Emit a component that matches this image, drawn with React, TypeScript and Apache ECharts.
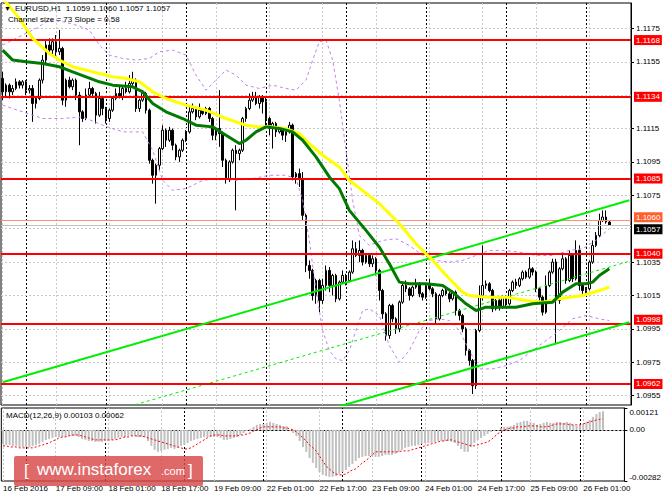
import { useEffect, useRef } from "react";
import * as echarts from "echarts";

const dayBlocks = [
  { day: "16 Feb", first: 17, last: 23 },
  { day: "17 Feb", first: 0, last: 23 },
  { day: "18 Feb", first: 0, last: 23 },
  { day: "19 Feb", first: 0, last: 23 },
  { day: "22 Feb", first: 0, last: 23 },
  { day: "23 Feb", first: 0, last: 23 },
  { day: "24 Feb", first: 0, last: 23 },
  { day: "25 Feb", first: 0, last: 23 },
  { day: "26 Feb", first: 0, last: 13 },
];
const firstLabel = "16 Feb 2016";

// [open, close, low, high]
const candles = [
  [1.1145, 1.1137, 1.1132, 1.1149], [1.1137, 1.1141, 1.1134, 1.1142], [1.1141, 1.1137, 1.1133, 1.1142],
  [1.1137, 1.1139, 1.1135, 1.1141], [1.1139, 1.1143, 1.1138, 1.1145], [1.1143, 1.1141, 1.1139, 1.1144],
  [1.1141, 1.1143, 1.1139, 1.1144], [1.1143, 1.1138, 1.1135, 1.1144], [1.1138, 1.1139, 1.1136, 1.1141],
  [1.1139, 1.113, 1.1119, 1.1141], [1.113, 1.1133, 1.1127, 1.1134], [1.1133, 1.1144, 1.1132, 1.1145],
  [1.1144, 1.1156, 1.1142, 1.1159], [1.1156, 1.1165, 1.1154, 1.1168], [1.1165, 1.1162, 1.116, 1.1169],
  [1.1162, 1.1167, 1.1159, 1.1169], [1.1167, 1.1161, 1.1157, 1.1171], [1.1161, 1.1163, 1.1159, 1.1174],
  [1.1163, 1.1132, 1.1129, 1.1164], [1.1132, 1.1144, 1.1128, 1.1145], [1.1144, 1.114, 1.1139, 1.1146],
  [1.114, 1.1144, 1.1138, 1.1145], [1.1144, 1.1135, 1.1132, 1.1145], [1.1135, 1.1125, 1.1105, 1.1137],
  [1.1125, 1.1121, 1.1119, 1.1126], [1.1121, 1.1135, 1.112, 1.1139], [1.1135, 1.1139, 1.1134, 1.1143],
  [1.1139, 1.1136, 1.1134, 1.114], [1.1136, 1.1123, 1.1118, 1.1137], [1.1123, 1.1133, 1.1122, 1.1137],
  [1.1133, 1.1127, 1.1123, 1.1134], [1.1127, 1.1121, 1.1118, 1.1128], [1.1121, 1.1126, 1.1119, 1.1127],
  [1.1126, 1.1133, 1.1125, 1.1134], [1.1133, 1.1136, 1.1132, 1.1139], [1.1136, 1.1134, 1.1133, 1.1141],
  [1.1134, 1.1139, 1.1132, 1.114], [1.1139, 1.1137, 1.1136, 1.1143], [1.1137, 1.1142, 1.1136, 1.1147],
  [1.1142, 1.1144, 1.114, 1.1149], [1.1144, 1.1127, 1.1125, 1.1145], [1.1127, 1.1132, 1.1125, 1.1133],
  [1.1132, 1.1136, 1.1131, 1.1138], [1.1136, 1.1126, 1.1124, 1.1137], [1.1126, 1.1096, 1.1094, 1.1127],
  [1.1096, 1.1087, 1.1082, 1.1097], [1.1087, 1.1093, 1.107, 1.1094], [1.1093, 1.1103, 1.109, 1.1104],
  [1.1103, 1.1114, 1.1102, 1.1117], [1.1114, 1.1108, 1.1104, 1.1115], [1.1108, 1.1114, 1.1107, 1.1116],
  [1.1114, 1.1105, 1.1102, 1.1115], [1.1105, 1.1098, 1.1096, 1.1106], [1.1098, 1.1102, 1.1095, 1.1103],
  [1.1102, 1.1108, 1.1101, 1.1109], [1.1108, 1.1113, 1.1107, 1.1114], [1.1113, 1.1125, 1.1112, 1.1128],
  [1.1125, 1.1127, 1.1124, 1.113], [1.1127, 1.1122, 1.112, 1.1128], [1.1122, 1.1126, 1.1121, 1.113],
  [1.1126, 1.1124, 1.1123, 1.1127], [1.1124, 1.1127, 1.1123, 1.1128], [1.1127, 1.1121, 1.1119, 1.1128],
  [1.1121, 1.1111, 1.1108, 1.1122], [1.1111, 1.1115, 1.1108, 1.1116], [1.1115, 1.1112, 1.1104, 1.1138],
  [1.1112, 1.1096, 1.1092, 1.1113], [1.1096, 1.1085, 1.1082, 1.1097], [1.1085, 1.1095, 1.1083, 1.1096],
  [1.1095, 1.1102, 1.1094, 1.1103], [1.1102, 1.11, 1.1066, 1.1105], [1.11, 1.1102, 1.1096, 1.1103],
  [1.1102, 1.1121, 1.1101, 1.1122], [1.1121, 1.1127, 1.1119, 1.1128], [1.1127, 1.1132, 1.1126, 1.1136],
  [1.1132, 1.1134, 1.1131, 1.1137], [1.1134, 1.113, 1.1129, 1.1137], [1.113, 1.1134, 1.1127, 1.1135],
  [1.1134, 1.1131, 1.1124, 1.1135], [1.1131, 1.1121, 1.1117, 1.1134], [1.1121, 1.1115, 1.1111, 1.1122],
  [1.1115, 1.1118, 1.1103, 1.1119], [1.1118, 1.1113, 1.111, 1.1119], [1.1113, 1.1115, 1.1112, 1.1116],
  [1.1115, 1.1111, 1.1108, 1.1116], [1.1111, 1.1113, 1.1107, 1.1115], [1.1113, 1.1117, 1.1112, 1.1119],
  [1.1117, 1.1086, 1.1084, 1.1118], [1.1086, 1.1088, 1.1082, 1.1089], [1.1088, 1.1085, 1.108, 1.1091],
  [1.1085, 1.1063, 1.106, 1.1089], [1.1063, 1.1033, 1.1029, 1.1064], [1.1033, 1.103, 1.1025, 1.1036],
  [1.103, 1.1015, 1.1012, 1.1031], [1.1015, 1.1024, 1.101, 1.1025], [1.1024, 1.1012, 1.1005, 1.1025],
  [1.1012, 1.1021, 1.101, 1.1025], [1.1021, 1.103, 1.1018, 1.1033], [1.103, 1.1021, 1.1017, 1.1032],
  [1.1021, 1.1027, 1.1015, 1.1028], [1.1027, 1.1013, 1.1011, 1.1028], [1.1013, 1.1023, 1.1012, 1.1024],
  [1.1023, 1.1027, 1.1022, 1.103], [1.1027, 1.1024, 1.1021, 1.1028], [1.1024, 1.1029, 1.1023, 1.103],
  [1.1029, 1.1043, 1.1028, 1.1048], [1.1043, 1.1039, 1.1038, 1.1047], [1.1039, 1.1042, 1.1035, 1.1048],
  [1.1042, 1.1035, 1.1033, 1.1043], [1.1035, 1.1039, 1.1034, 1.104], [1.1039, 1.1034, 1.1032, 1.104],
  [1.1034, 1.1037, 1.1032, 1.1039], [1.1037, 1.103, 1.1027, 1.1038], [1.103, 1.1018, 1.1012, 1.1031],
  [1.1018, 1.1004, 1.1001, 1.1019], [1.1004, 1.0991, 1.0988, 1.1005], [1.0991, 1.1009, 1.0989, 1.101],
  [1.1009, 1.1001, 1.0999, 1.101], [1.1001, 1.0995, 1.0992, 1.1002], [1.0995, 1.1011, 1.0993, 1.1012],
  [1.1011, 1.1021, 1.101, 1.1022], [1.1021, 1.1019, 1.1017, 1.1024], [1.1019, 1.1015, 1.1012, 1.102],
  [1.1015, 1.102, 1.1014, 1.1021], [1.102, 1.1022, 1.1019, 1.1025], [1.1022, 1.1016, 1.1014, 1.1023],
  [1.1016, 1.1014, 1.1012, 1.1017], [1.1014, 1.1021, 1.1013, 1.1022], [1.1021, 1.1019, 1.1018, 1.1025],
  [1.1019, 1.1016, 1.1014, 1.102], [1.1016, 1.1001, 1.0998, 1.1017], [1.1001, 1.1015, 1.1, 1.1016],
  [1.1015, 1.1018, 1.1014, 1.1019], [1.1018, 1.1016, 1.1015, 1.1019], [1.1016, 1.1013, 1.1011, 1.1017],
  [1.1013, 1.1017, 1.1012, 1.1018], [1.1017, 1.1006, 1.1003, 1.1018], [1.1006, 1.1003, 1.1, 1.1007],
  [1.1003, 1.0995, 1.0993, 1.1004], [1.0995, 1.0982, 1.0979, 1.0996], [1.0982, 1.0976, 1.0973, 1.0983],
  [1.0976, 1.0961, 1.0956, 1.0977], [1.0961, 1.0994, 1.0959, 1.0995], [1.0994, 1.1015, 1.0993, 1.1021],
  [1.1015, 1.1021, 1.1012, 1.1045], [1.1021, 1.1022, 1.1019, 1.1024], [1.1022, 1.1018, 1.1017, 1.1023],
  [1.1018, 1.1007, 1.1005, 1.1019], [1.1007, 1.1012, 1.1006, 1.1013], [1.1012, 1.1008, 1.1006, 1.1013],
  [1.1008, 1.1014, 1.1007, 1.1015], [1.1014, 1.101, 1.1008, 1.1015], [1.101, 1.1018, 1.1009, 1.1019],
  [1.1018, 1.1023, 1.1017, 1.1024], [1.1023, 1.1021, 1.1019, 1.1025], [1.1021, 1.1025, 1.102, 1.1026],
  [1.1025, 1.1029, 1.1024, 1.103], [1.1029, 1.1026, 1.1025, 1.103], [1.1026, 1.1031, 1.1025, 1.1038],
  [1.1031, 1.1029, 1.1027, 1.1032], [1.1029, 1.1019, 1.1017, 1.103], [1.1019, 1.1014, 1.1012, 1.102],
  [1.1014, 1.1005, 1.1003, 1.1015], [1.1005, 1.1021, 1.1004, 1.1027], [1.1021, 1.1029, 1.102, 1.103],
  [1.1029, 1.1035, 1.1028, 1.1037], [1.1035, 1.1012, 1.0986, 1.1037], [1.1012, 1.1031, 1.101, 1.1032],
  [1.1031, 1.1037, 1.103, 1.104], [1.1037, 1.1024, 1.1022, 1.1038], [1.1024, 1.1039, 1.1023, 1.1042],
  [1.1039, 1.1025, 1.1023, 1.104], [1.1025, 1.1042, 1.1024, 1.1048], [1.1042, 1.1021, 1.1018, 1.1045],
  [1.1021, 1.1018, 1.1016, 1.1022], [1.1018, 1.1019, 1.1016, 1.102], [1.1019, 1.1035, 1.1018, 1.1036],
  [1.1035, 1.1045, 1.1034, 1.1048], [1.1045, 1.1051, 1.1044, 1.1053], [1.1051, 1.106, 1.105, 1.1064],
  [1.106, 1.1062, 1.1059, 1.1066], [1.1062, 1.1059, 1.1058, 1.1066], [1.1059, 1.1057, 1.1057, 1.106],
];

// [bar index, price]
const greenMA = [
  [0, 1.1162], [3, 1.1156], [7, 1.1155], [12, 1.1154], [17, 1.1152], [21, 1.1149], [25, 1.1146],
  [29, 1.1143], [33, 1.1141], [39, 1.114], [42, 1.1137], [45, 1.113], [49, 1.1125], [54, 1.1121],
  [58, 1.1117], [63, 1.1116], [67, 1.1111], [71, 1.1106], [73, 1.1108], [76, 1.1113], [79, 1.1116],
  [83, 1.1115], [87, 1.1113], [90, 1.1108], [94, 1.1098], [98, 1.1086], [101, 1.1079], [104, 1.1066],
  [109, 1.1054], [113, 1.1044], [116, 1.1034], [119, 1.1023], [122, 1.1022], [127, 1.1022],
  [132, 1.1021], [135, 1.1017], [139, 1.101], [142, 1.1006], [145, 1.1008], [149, 1.1008],
  [154, 1.1008], [159, 1.101], [165, 1.1011], [168, 1.1017], [172, 1.1022], [175, 1.1022],
  [177, 1.1023], [179, 1.1027], [182, 1.1031],
];
const yellowMA = [
  [0, 1.1193], [5, 1.1181], [9, 1.1169], [14, 1.116], [17, 1.1156], [21, 1.1152], [25, 1.115],
  [29, 1.1148], [33, 1.1146], [37, 1.1145], [41, 1.1143], [45, 1.1137], [49, 1.1133], [55, 1.1129],
  [61, 1.1126], [67, 1.1121], [73, 1.1117], [77, 1.1116], [81, 1.1116], [85, 1.1115], [89, 1.1112],
  [92, 1.1106], [96, 1.1099], [101, 1.1092], [104, 1.1084], [113, 1.107], [119, 1.1058],
  [124, 1.1046], [129, 1.1036], [134, 1.1025], [138, 1.1017], [140, 1.1015], [145, 1.1014],
  [151, 1.1014], [157, 1.1012], [162, 1.1011], [167, 1.1013], [174, 1.1015], [179, 1.1018], [182, 1.102],
];
const bandUpper = [
  [0, 1.1165], [6, 1.1171], [10, 1.1175], [14, 1.118], [18, 1.1179], [22, 1.1177], [26, 1.1174],
  [29, 1.1165], [32, 1.1159], [36, 1.1157], [40, 1.1156], [44, 1.1157], [47, 1.1161], [51, 1.1162],
  [55, 1.1159], [58, 1.1147], [61, 1.1138], [64, 1.1144], [67, 1.115], [70, 1.1147], [73, 1.1141],
  [77, 1.1139], [81, 1.1141], [85, 1.1139], [88, 1.1138], [91, 1.1144], [93, 1.1156], [95, 1.1167],
  [97, 1.1168], [99, 1.1156], [101, 1.1132], [103, 1.1102], [105, 1.1072], [107, 1.1051],
  [110, 1.1045], [114, 1.1048], [118, 1.1049], [122, 1.1045], [126, 1.1039], [130, 1.1036],
  [134, 1.1035], [138, 1.1036], [142, 1.1039], [146, 1.1042], [150, 1.1042], [155, 1.1041],
  [160, 1.1039], [165, 1.1039], [170, 1.1042], [174, 1.1043], [178, 1.1048], [182, 1.1055],
];
const bandLower = [
  [0, 1.1129], [6, 1.1125], [12, 1.1121], [18, 1.1121], [24, 1.1122], [30, 1.1117], [36, 1.1113],
  [42, 1.1113], [45, 1.1102], [48, 1.1084], [51, 1.1078], [55, 1.1079], [60, 1.1084], [65, 1.1085],
  [70, 1.1084], [75, 1.1085], [80, 1.1087], [85, 1.1087], [88, 1.1085], [90, 1.1072], [92, 1.1048],
  [94, 1.1018], [96, 1.0994], [98, 1.0982], [100, 1.0977], [102, 1.0976], [104, 1.0982],
  [106, 1.0994], [108, 1.1006], [110, 1.1007], [113, 1.1003], [116, 1.0985], [119, 1.0975],
  [122, 1.0982], [125, 1.0994], [128, 1.1], [131, 1.1001], [134, 1.1], [137, 1.0994], [140, 1.0982],
  [143, 1.0971], [147, 1.0971], [151, 1.0973], [155, 1.0976], [159, 1.0982], [163, 1.0988],
  [167, 1.0994], [171, 1.1001], [175, 1.1003], [179, 1.1001], [182, 1.1],
];

const channelEnds = [0, 188];
const channelUpper = [1.0963, 1.1072];
const channelMid = [1.09265, 1.10355];
const channelLower = [1.089, 1.0999];

const levels = [1.1168, 1.1134, 1.1085, 1.104, 1.0998, 1.0962];
const askLevel = 1.106;
const bidLevel = 1.1057;

const priceTicks = [1.0955, 1.0975, 1.0995, 1.1015, 1.1035, 1.1055, 1.1075, 1.1095, 1.1115, 1.1135, 1.1155, 1.1175];
const priceTickLabels = [1.0955, 1.0975, 1.0995, 1.1015, 1.1035, 1.1075, 1.1095, 1.1115, 1.1155, 1.1175];
const priceMin = 1.09494;
const priceMax = 1.11902;

const macdHist = [
  -0.00077, -0.00083, -0.00083, -0.00088, -0.00088, -0.00094, -0.00094, -0.00094, -0.00094, -0.00088,
  -0.00083, -0.00077, -0.00066, -0.00055, -0.0005, -0.00044, -0.00039, -0.00039, -0.00039, -0.00039,
  -0.00033, -0.00033, -0.00033, -0.00039, -0.0005, -0.00055, -0.00061, -0.00061, -0.00066, -0.00066,
  -0.00066, -0.00061, -0.00061, -0.00055, -0.0005, -0.00044, -0.00039, -0.00039, -0.00033, -0.00033,
  -0.00033, -0.00039, -0.00039, -0.00039, -0.00061, -0.00088, -0.0011, -0.00121, -0.00116, -0.0011,
  -0.00105, -0.00099, -0.00105, -0.00099, -0.00088, -0.00083, -0.00072, -0.00061, -0.00055, -0.0005,
  -0.00044, -0.00039, -0.00039, -0.00039, -0.00039, -0.00039, -0.00044, -0.00055, -0.00055, -0.0005,
  -0.00044, -0.00039, -0.00028, -0.00017, -0.00006, 0.00006, 0.00017, 0.00028, 0.00033, 0.00033,
  0.00039, 0.00044, 0.00039, 0.00033, 0.00028, 0.00022, 0.00022, 0.0, -0.00017, -0.00033,
  -0.00061, -0.00094, -0.00121, -0.00155, -0.00182, -0.0021, -0.00232, -0.00248, -0.00254, -0.00259,
  -0.00259, -0.00254, -0.00243, -0.00232, -0.00221, -0.00204, -0.00188, -0.00171, -0.00155, -0.00149,
  -0.00144, -0.00144, -0.00144, -0.00149, -0.00149, -0.00144, -0.00138, -0.00138, -0.00138, -0.00132,
  -0.00121, -0.0011, -0.00099, -0.00094, -0.00088, -0.00088, -0.00083, -0.00077, -0.00072, -0.00072,
  -0.00072, -0.00066, -0.00061, -0.00061, -0.00061, -0.00061, -0.00066, -0.00072, -0.00088, -0.00105,
  -0.00121, -0.00121, -0.00094, -0.00072, -0.00055, -0.00044, -0.00033, -0.00022, -0.00011, -0.00006,
  0.0, 0.00011, 0.00017, 0.00017, 0.00022, 0.00028, 0.00039, 0.00044, 0.0005, 0.0005,
  0.00044, 0.00039, 0.00028, 0.00033, 0.00039, 0.00044, 0.00039, 0.00039, 0.00044, 0.00044,
  0.00039, 0.00044, 0.00039, 0.00028, 0.00022, 0.00028, 0.00033, 0.00044, 0.00055, 0.00072,
  0.00088, 0.00099, 0.00103,
];
const macdSignal = [
  -0.00088, -0.00088, -0.00094, -0.00094, -0.00094, -0.00099, -0.00099, -0.00099, -0.00099, -0.00099,
  -0.00094, -0.00088, -0.00083, -0.00077, -0.00072, -0.00061, -0.00055, -0.00044, -0.00039, -0.00039,
  -0.00033, -0.00028, -0.00028, -0.00028, -0.00033, -0.00039, -0.00044, -0.0005, -0.00055, -0.00055,
  -0.00055, -0.00055, -0.00055, -0.00055, -0.00055, -0.0005, -0.00044, -0.00039, -0.00039, -0.00033,
  -0.00033, -0.00033, -0.00033, -0.00039, -0.00044, -0.0005, -0.00055, -0.00061, -0.00066, -0.00072,
  -0.00077, -0.00083, -0.00088, -0.00094, -0.00099, -0.00105, -0.00105, -0.00099, -0.00088, -0.00077,
  -0.00066, -0.00055, -0.00044, -0.00033, -0.00028, -0.00028, -0.00028, -0.00033, -0.00033, -0.00033,
  -0.00033, -0.00033, -0.00028, -0.00028, -0.00022, -0.00017, -0.00006, 0.0, 0.00011, 0.00017,
  0.00017, 0.00017, 0.00017, 0.00017, 0.00017, 0.00011, 0.00011, 0.00006, 0.0, -0.00011,
  -0.00028, -0.00044, -0.00061, -0.00083, -0.00099, -0.00116, -0.00144, -0.00171, -0.00199, -0.00215,
  -0.00232, -0.00243, -0.00248, -0.00248, -0.00243, -0.00232, -0.00221, -0.00215, -0.00199, -0.00182,
  -0.00171, -0.00155, -0.00138, -0.00121, -0.00121, -0.00121, -0.00121, -0.00121, -0.00121, -0.00121,
  -0.00121, -0.00116, -0.00116, -0.00116, -0.0011, -0.00105, -0.00099, -0.00094, -0.00088, -0.00083,
  -0.00077, -0.00072, -0.00066, -0.00061, -0.00061, -0.00055, -0.00055, -0.00061, -0.00066, -0.00072,
  -0.00077, -0.00083, -0.00088, -0.00088, -0.00083, -0.00077, -0.00072, -0.00066, -0.00055, -0.00039,
  -0.00022, -0.00011, 0.0, 0.00006, 0.00011, 0.00011, 0.00017, 0.00017, 0.00017, 0.00022,
  0.00022, 0.00022, 0.00022, 0.00017, 0.00017, 0.00017, 0.00022, 0.00028, 0.00033, 0.00033,
  0.00033, 0.00033, 0.00028, 0.00028, 0.00028, 0.00028, 0.00033, 0.00039, 0.00044, 0.0005,
  0.00055, 0.00058, 0.00062,
];
const macdMin = -0.00282;
const macdMax = 0.00121;
const macdTicks = [-0.00282, 0, 0.00121];

const timeGridBars = [0, 16, 32, 48, 64, 80, 96, 112, 128, 144, 160, 176];
const daySeparators = [7, 31, 55, 79, 103, 127, 151, 175];

const FONT = '"Liberation Sans", Arial, sans-serif';

function buildCategories() {
  const out: string[] = [];
  dayBlocks.forEach((b) => {
    for (let h = b.first; h <= b.last; h++) out.push(`${b.day} ${String(h).padStart(2, "0")}:00`);
  });
  return out;
}

export default function App() {
  const ref = useRef<HTMLDivElement>(null);
  useEffect(() => {
    if (!ref.current) return;
    const chart = echarts.init(ref.current, undefined, { renderer: "svg" });
    const categories = buildCategories();

    const gridLineStyle = { color: "#c8c8c8", type: [2, 2], width: 1 };
    const sepStyle = { color: "#000", type: [2, 2], width: 1 };
    const verticalLines = [
      ...timeGridBars.map((i) => ({ xAxis: i, lineStyle: gridLineStyle })),
      ...daySeparators.map((i) => ({ xAxis: i, lineStyle: sepStyle })),
    ];

    const levelLabel = (bg: string, dy = 0) => ({
      show: true,
      position: "end",
      distance: 3,
      offset: [0, dy],
      formatter: (p: any) => Number(p.value).toFixed(4),
      backgroundColor: bg,
      color: "#fff",
      padding: [1, 2, 0, 2],
      lineHeight: 9,
      fontSize: 8,
      fontFamily: FONT,
    });

    const option: any = {
      animation: false,
      backgroundColor: "#fff",
      grid: [
        { left: 1, top: 3, width: 630, height: 402, show: true, borderColor: "#000", borderWidth: 1 },
        { left: 1, top: 408, width: 630, height: 73, show: true, borderColor: "#000", borderWidth: 1 },
      ],
      xAxis: [
        {
          type: "category", gridIndex: 0, data: categories, boundaryGap: true,
          axisLine: { show: false }, axisTick: { show: false }, axisLabel: { show: false }, splitLine: { show: false },
        },
        {
          type: "category", gridIndex: 1, data: categories, boundaryGap: true,
          axisLine: { show: true, lineStyle: { color: "#000" } },
          axisTick: { show: true, interval: 15, alignWithLabel: true, length: 3, lineStyle: { color: "#000" } },
          axisLabel: {
            show: true, interval: 15, align: "left", margin: 3, fontSize: 8, fontFamily: FONT, color: "#000",
            formatter: (v: string, idx: number) => (idx === 0 ? firstLabel : v),
          },
          splitLine: { show: false },
        },
      ],
      yAxis: [
        {
          type: "value", gridIndex: 0, position: "right", min: priceMin, max: priceMax,
          axisLine: { show: true, lineStyle: { color: "#000" } },
          axisTick: { show: true, length: 3, customValues: priceTickLabels, lineStyle: { color: "#000" } },
          axisLabel: {
            show: true, customValues: priceTickLabels, margin: 5, fontSize: 8, lineHeight: 9, fontFamily: FONT, color: "#000",
            formatter: (v: number) => v.toFixed(4),
          },
          splitLine: { show: false },
        },
        {
          type: "value", gridIndex: 1, position: "right", min: macdMin, max: macdMax,
          axisLine: { show: true, lineStyle: { color: "#000" } },
          axisTick: { show: true, length: 3, customValues: macdTicks, lineStyle: { color: "#000" } },
          axisLabel: {
            show: true, customValues: macdTicks, margin: 5, fontSize: 8, fontFamily: FONT, color: "#000",
            verticalAlignMinLabel: "bottom", verticalAlignMaxLabel: "top",
            formatter: (v: number) => (Math.abs(v) < 1e-12 ? "0.00" : v.toFixed(5)),
          },
          splitLine: { show: false },
        },
      ],
      series: [
        {
          type: "candlestick", xAxisIndex: 0, yAxisIndex: 0, data: candles, barWidth: 2, z: 2,
          itemStyle: { color: "#fff", color0: "#000", borderColor: "#000", borderColor0: "#000", borderWidth: 1 },
        },
        {
          type: "line", xAxisIndex: 0, yAxisIndex: 0, data: bandUpper, symbol: "none", z: 3,
          lineStyle: { color: "#c080ee", width: 1, type: [3, 3] },
        },
        {
          type: "line", xAxisIndex: 0, yAxisIndex: 0, data: bandLower, symbol: "none", z: 3,
          lineStyle: { color: "#c080ee", width: 1, type: [3, 3] },
        },
        {
          type: "line", xAxisIndex: 0, yAxisIndex: 0, data: channelEnds.map((x, k) => [x, channelMid[k]]),
          symbol: "none", z: 3, lineStyle: { color: "#00ee00", width: 1, type: [3, 3] },
          markLine: {
            silent: true, symbol: ["none", "none"], z: 1, precision: 6, animation: false, label: { show: false },
            lineStyle: gridLineStyle,
            data: [...verticalLines, ...priceTicks.map((v) => ({ yAxis: v, lineStyle: gridLineStyle }))],
          },
        },
        {
          type: "line", xAxisIndex: 0, yAxisIndex: 0, data: channelEnds.map((x, k) => [x, channelUpper[k]]),
          symbol: "none", z: 4, lineStyle: { color: "#00ee00", width: 2 },
        },
        {
          type: "line", xAxisIndex: 0, yAxisIndex: 0, data: channelEnds.map((x, k) => [x, channelLower[k]]),
          symbol: "none", z: 4, lineStyle: { color: "#00ee00", width: 2 },
          markLine: {
            silent: true, symbol: ["none", "none"], z: 4, precision: 6, animation: false,
            data: [
              ...levels.map((v) => ({
                yAxis: v,
                lineStyle: { color: "#ff0000", width: 2, type: "solid" },
                label: levelLabel("#ff0000", v === 1.0998 ? -4 : 0),
              })),
              { yAxis: askLevel, lineStyle: { color: "#ff9070", width: 1, type: "solid" }, label: levelLabel("#ff6030", -3) },
              { yAxis: bidLevel, lineStyle: { color: "#c0c0c0", width: 1, type: "solid" }, label: levelLabel("#000000", 4) },
            ],
          },
        },
        {
          type: "line", xAxisIndex: 0, yAxisIndex: 0, data: yellowMA, symbol: "none", z: 5,
          lineStyle: { color: "#ffff00", width: 3 },
        },
        {
          type: "line", xAxisIndex: 0, yAxisIndex: 0, data: greenMA, symbol: "none", z: 5,
          lineStyle: { color: "#007a00", width: 3 },
        },
        {
          type: "bar", xAxisIndex: 1, yAxisIndex: 1, data: macdHist, barWidth: 2, z: 2,
          itemStyle: { color: "#c0c0c0" },
          markLine: {
            silent: true, symbol: ["none", "none"], z: 1, precision: 6, animation: false, label: { show: false },
            lineStyle: gridLineStyle,
            data: [...verticalLines, { yAxis: 0, lineStyle: gridLineStyle }],
          },
        },
        {
          type: "line", xAxisIndex: 1, yAxisIndex: 1, data: macdSignal, symbol: "none", z: 3,
          lineStyle: { color: "#ff0000", width: 1, type: [2, 2] },
        },
      ],
      graphic: [
        { type: "text", x: 4, y: 8, z: 50, style: { text: "▼", fill: "#000", font: `7px ${FONT}`, verticalAlign: "middle", textVerticalAlign: "middle" } },
        { type: "text", x: 15, y: 8, z: 50, style: { text: "EURUSD,H1  1.1059 1.1060 1.1057 1.1057", fill: "#000", font: `8px ${FONT}`, verticalAlign: "middle", textVerticalAlign: "middle" } },
        { type: "text", x: 8, y: 19, z: 50, style: { text: "Channel size = 73 Slope = 0.58", fill: "#000", font: `8px ${FONT}`, verticalAlign: "middle", textVerticalAlign: "middle" } },
        { type: "text", x: 6, y: 415, z: 50, style: { text: "MACD(12,26,9) 0.00103 0.00062", fill: "#000", font: `8px ${FONT}`, verticalAlign: "middle", textVerticalAlign: "middle" } },
        { type: "rect", z: 60, shape: { x: 14, y: 456, width: 189, height: 30, r: 2 }, style: { fill: "rgba(216, 72, 72, 0.82)" } },
        { type: "text", x: 24, y: 470, z: 61, style: { text: "[", fill: "#fff", font: `17px ${FONT}`, verticalAlign: "middle", textVerticalAlign: "middle" } },
        { type: "text", x: 37, y: 469, z: 61, style: { text: "www.instaforex", fill: "#fff", font: `17px ${FONT}`, verticalAlign: "middle", textVerticalAlign: "middle" } },
        { type: "text", x: 161, y: 471, z: 61, style: { text: ".com", fill: "#fff", font: `11px ${FONT}`, verticalAlign: "middle", textVerticalAlign: "middle" } },
        { type: "text", x: 188, y: 470, z: 61, style: { text: "]", fill: "#fff", font: `17px ${FONT}`, verticalAlign: "middle", textVerticalAlign: "middle" } },
      ],
    };

    chart.setOption(option);
    return () => chart.dispose();
  }, []);

  return (
    <div
      ref={ref}
      style={{ position: "absolute", left: 0, top: 0, width: 664, height: 498, background: "#fff" }}
    />
  );
}
